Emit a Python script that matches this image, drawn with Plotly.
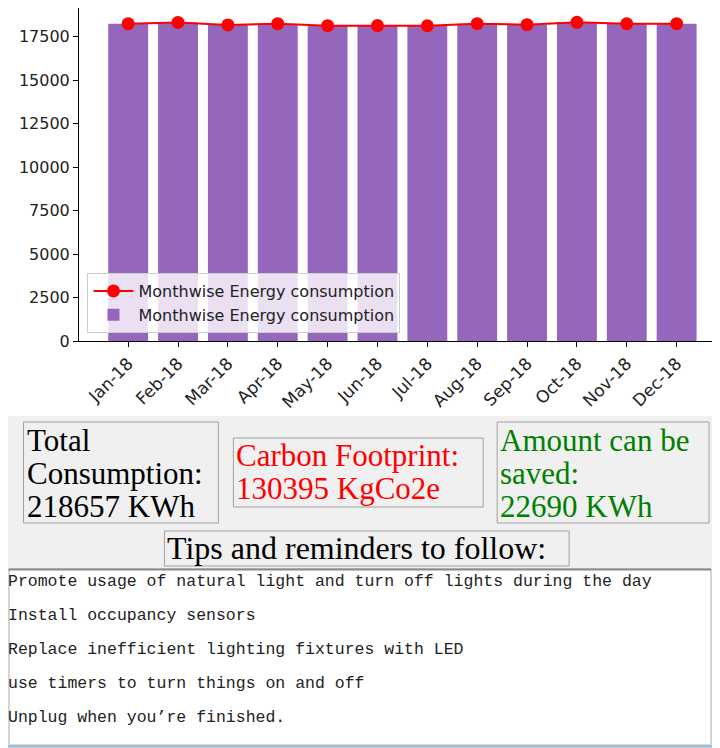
import plotly.graph_objects as go

months = ["Jan-18", "Feb-18", "Mar-18", "Apr-18", "May-18", "Jun-18",
          "Jul-18", "Aug-18", "Sep-18", "Oct-18", "Nov-18", "Dec-18"]
consumption = [18250, 18320, 18175, 18250, 18135, 18140,
               18130, 18250, 18190, 18325, 18245, 18247]
y_ticks = [0, 2500, 5000, 7500, 10000, 12500, 15000, 17500]
series_name = "Monthwise Energy consumption"

total_lines = ["Total", "Consumption:", "218657 KWh"]
carbon_lines = ["Carbon Footprint:", "130395 KgCo2e"]
saved_lines = ["Amount can be", "saved:", "22690 KWh"]
tips_title = "Tips and reminders to follow:"
tips = ["Promote usage of natural light and turn off lights during the day",
        "Install occupancy sensors",
        "Replace inefficient lighting fixtures with LED",
        "use timers to turn things on and off",
        "Unplug when you\u2019re finished."]

# the page puts the figure 8px in from the top-left corner
OFF = 8
W, H = 720 - OFF, 748 - OFF
PLOT_L, PLOT_T, PLOT_B = 78.5, 8, 341          # in reference pixels
L, T, B, R = PLOT_L - OFF, PLOT_T - OFF, 748 - PLOT_B, 0
PW = W - L - R
PH = H - T - B
PX_PER_UNIT = (341 - 36.7) / 17500
Y_TOP = (PLOT_B - PLOT_T) / PX_PER_UNIT


def px(x):
    return (x - PLOT_L) / PW


def py(y):
    return (PLOT_B - y) / PH


x_idx = list(range(len(months)))

fig = go.Figure()
fig.add_trace(go.Bar(x=x_idx, y=consumption, name=series_name,
                     marker=dict(color="#9467bd", line=dict(width=0)),
                     width=0.8))
fig.add_trace(go.Scatter(x=x_idx, y=consumption, name=series_name,
                         mode="lines+markers",
                         line=dict(color="#ff0000", width=2),
                         marker=dict(color="#ff0000", size=13)))

shapes = []
annotations = []

# lower panel background
shapes.append(dict(type="rect", xref="paper", yref="paper", layer="below",
                   x0=px(0), x1=px(730), y0=py(416), y1=py(760),
                   fillcolor="#f0f0f0", line=dict(width=0)))


def box(x0, y0, x1, y1, fill="#f0f0f0", color="#a0a0a0", width=1):
    shapes.append(dict(type="rect", xref="paper", yref="paper",
                       x0=px(x0), x1=px(x1), y0=py(y1), y1=py(y0),
                       fillcolor=fill, line=dict(color=color, width=width)))


box(23, 422, 218, 523)
box(233, 438, 483, 507)
box(497, 422, 709, 523)
box(164, 531, 569, 566)
# text area
box(8.5, 569, 711, 745, fill="#ffffff", color="#b0b0b0", width=1)
shapes.append(dict(type="line", xref="paper", yref="paper",
                   x0=px(8), x1=px(711), y0=py(569.5), y1=py(569.5),
                   line=dict(color="#8a8a8a", width=2)))
# scrollbar
box(713, 569, 721, 745, fill="#f0f0f0", color="#f0f0f0", width=0)
box(714, 590, 721, 692, fill="#cdcdcd", color="#cdcdcd", width=0)
# bottom blue line
shapes.append(dict(type="line", xref="paper", yref="paper",
                   x0=px(0), x1=px(730), y0=py(746.5), y1=py(746.5),
                   line=dict(color="#8fb8d8", width=2)))

SERIF = "Liberation Serif, Times New Roman, serif"


def text_line(txt, x, yc, color, size=31, family=SERIF):
    annotations.append(dict(text=txt, x=px(x), y=py(yc), xref="paper",
                            yref="paper", xanchor="left", yanchor="middle",
                            showarrow=False,
                            font=dict(family=family, size=size, color=color)))


for t, yc in zip(total_lines, [440, 473, 506]):
    text_line(t, 24, yc, "#000000")
for t, yc in zip(carbon_lines, [455, 488]):
    text_line(t, 234, yc, "#ff0000")
for t, yc in zip(saved_lines, [440, 473, 506]):
    text_line(t, 498, yc, "#008000")
text_line(tips_title, 165, 548, "#000000", size=32)

for t, yc in zip(tips, [581, 615, 649, 683, 717]):
    text_line(t, 5, yc, "#222222", size=16.5,
              family="Liberation Mono, Courier New, monospace")

fig.update_layout(
    width=W, height=H,
    margin=dict(l=L, r=R, t=T, b=B, pad=0),
    paper_bgcolor="#ffffff", plot_bgcolor="#ffffff",
    font=dict(family="DejaVu Sans, sans-serif", color="#000000"),
    showlegend=True,
    bargap=0.2,
    legend=dict(x=px(87), y=py(333), xanchor="left", yanchor="bottom",
                traceorder="reversed",
                bgcolor="rgba(255,255,255,0.8)", bordercolor="#cccccc",
                borderwidth=1, font=dict(size=16, color="#222222"),
                tracegroupgap=0, itemwidth=40),
    shapes=shapes,
    annotations=annotations,
    xaxis=dict(range=[-0.986, -0.986 + PW / 49.9],
               tickmode="array", tickvals=x_idx, ticktext=months,
               tickangle=-45, ticks="outside", ticklen=5, tickwidth=1,
               tickcolor="#000000", showline=True, linecolor="#000000",
               linewidth=1, mirror=True, showgrid=False, zeroline=False,
               tickfont=dict(size=17, color="#222222")),
    yaxis=dict(range=[0, Y_TOP], tickmode="array", tickvals=y_ticks,
               ticktext=[str(v) for v in y_ticks],
               ticks="outside", ticklen=5, tickwidth=1, tickcolor="#000000",
               showline=True, linecolor="#000000", linewidth=1,
               mirror=False, showgrid=False, zeroline=False,
               tickfont=dict(size=16, color="#222222")),
)

fig.write_html("out.html")
